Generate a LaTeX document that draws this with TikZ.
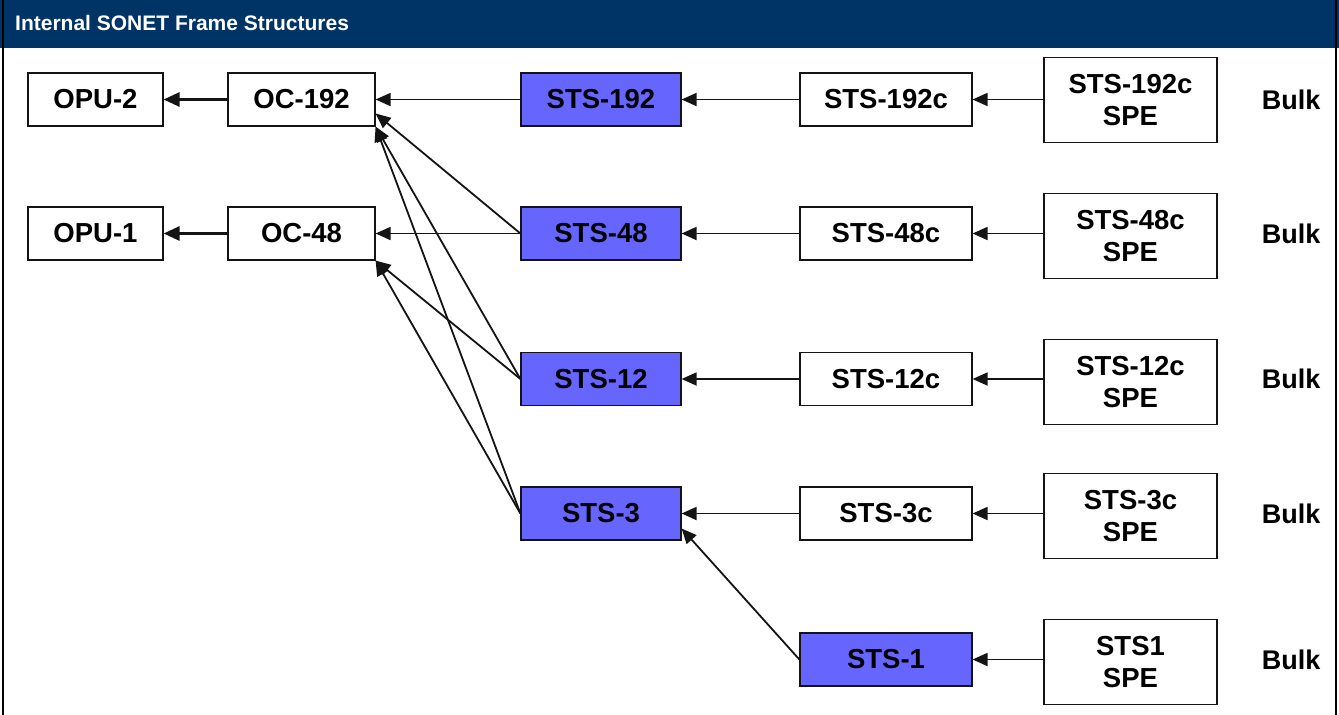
\documentclass[tikz,border=0pt]{standalone}
\usepackage{fontspec}
\setmainfont{Liberation Sans}
\usetikzlibrary{arrows.meta}
\definecolor{navy}{RGB}{0,51,102}
\definecolor{stsblue}{RGB}{102,102,255}
\definecolor{linegray}{RGB}{20,20,20}
\tikzset{
  box/.style={draw=linegray, line width=1.2pt, fill=white, minimum height=53pt, inner sep=0pt,
    font=\fontsize{27.5}{30}\selectfont\bfseries, align=center},
  bluebox/.style={box, fill=stsblue},
  spebox/.style={box, minimum width=173pt, minimum height=85pt, font=\fontsize{27.5}{32}\selectfont\bfseries},
  conn/.style={draw=linegray, line width=1.8pt, -{Triangle[length=15pt,width=13pt]}},
  thickconn/.style={draw=linegray, line width=2.8pt, -{Triangle[length=16pt,width=14pt]}},
  bulklabel/.style={font=\fontsize{27}{30}\selectfont\bfseries, inner sep=0pt},
  titletext/.style={font=\fontsize{21}{23}\selectfont\bfseries, text=white, anchor=west, inner sep=0pt}
}
\begin{document}
\begin{tikzpicture}[x=1pt,y=-1pt]
\useasboundingbox (0,0) rectangle (1339,715);
\fill[white] (0,0) rectangle (1339,715);
\fill[navy] (0,0) rectangle (1339,48);
\draw[black, line width=2pt] (3,0) -- (3,715);
\draw[black, line width=2pt] (1336,0) -- (1336,715);
\node[titletext] (title) at (15,23) {Internal SONET Frame Structures};

% column 1
\node[box, minimum width=135pt] (opu2) at (95.5,99.5) {OPU-2};
\node[box, minimum width=135pt] (opu1) at (95.5,233.5) {OPU-1};
% column 2
\node[box, minimum width=147pt] (oc192) at (301.5,99.5) {OC-192};
\node[box, minimum width=147pt] (oc48) at (301.5,233.5) {OC-48};
% column 3
\node[bluebox, minimum width=160pt] (sts192) at (601,99.5) {STS-192};
\node[bluebox, minimum width=160pt] (sts48) at (601,233.5) {STS-48};
\node[bluebox, minimum width=160pt] (sts12) at (601,379) {STS-12};
\node[bluebox, minimum width=160pt] (sts3) at (601,513.5) {STS-3};
% column 4
\node[box, minimum width=172pt] (sts192c) at (886,99.5) {STS-192c};
\node[box, minimum width=172pt] (sts48c) at (886,233.5) {STS-48c};
\node[box, minimum width=172pt] (sts12c) at (886,379) {STS-12c};
\node[box, minimum width=172pt] (sts3c) at (886,513.5) {STS-3c};
\node[bluebox, minimum width=172pt] (sts1) at (886,659.5) {STS-1};
% column 5
\node[spebox] (spe192) at (1130.5,100) {STS-192c\\SPE};
\node[spebox] (spe48) at (1130.5,236) {STS-48c\\SPE};
\node[spebox] (spe12) at (1130.5,382) {STS-12c\\SPE};
\node[spebox] (spe3) at (1130.5,516) {STS-3c\\SPE};
\node[spebox] (spe1) at (1130.5,662) {STS1\\SPE};
% bulk labels
\node[bulklabel] (b1) at (1291,99.5) {Bulk};
\node[bulklabel] (b2) at (1291,233.5) {Bulk};
\node[bulklabel] (b3) at (1291,379) {Bulk};
\node[bulklabel] (b4) at (1291,513.5) {Bulk};
\node[bulklabel] (b5) at (1291,659.5) {Bulk};

% connectors: SPE -> concatenated
\draw[conn] (spe192.west |- sts192c.east) -- (sts192c.east);
\draw[conn] (spe48.west |- sts48c.east) -- (sts48c.east);
\draw[conn] (spe12.west |- sts12c.east) -- (sts12c.east);
\draw[conn] (spe3.west |- sts3c.east) -- (sts3c.east);
\draw[conn] (spe1.west |- sts1.east) -- (sts1.east);
% concatenated -> STS
\draw[conn] (sts192c.west) -- (sts192.east);
\draw[conn] (sts48c.west) -- (sts48.east);
\draw[conn] (sts12c.west) -- (sts12.east);
\draw[conn] (sts3c.west) -- (sts3.east);
\draw[conn] (sts1.west) -- ([yshift=-15pt]sts3.east);
% STS -> OC
\draw[conn] (sts192.west) -- (oc192.east);
\draw[conn] (sts48.west) -- (oc48.east);
\draw[conn] (sts48.west) -- ([yshift=-14pt]oc192.east);
\draw[conn] (sts12.west) -- (oc192.south east);
\draw[conn] (sts3.west) -- (oc192.south east);
\draw[conn] (sts12.west) -- (oc48.south east);
\draw[conn] (sts3.west) -- (oc48.south east);
% OC -> OPU
\draw[thickconn] (oc192.west) -- (opu2.east);
\draw[thickconn] (oc48.west) -- (opu1.east);
\end{tikzpicture}
\end{document}
